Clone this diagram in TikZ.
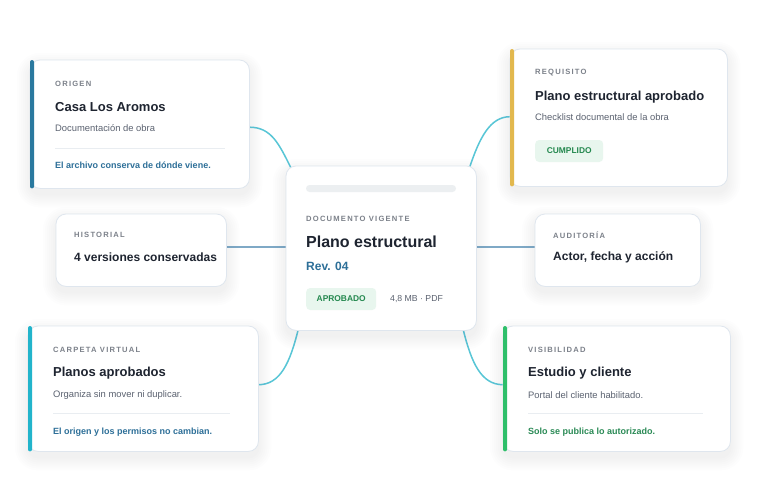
\documentclass[tikz,border=0pt]{standalone}
\usepackage{fontspec}
\setmainfont{Liberation Sans}
\newfontfamily\capsfont[LetterSpace=16]{Liberation Sans}
\usetikzlibrary{calc}

\definecolor{cardline}{HTML}{DFE6EE}
\definecolor{accorigen}{HTML}{2A799F}
\definecolor{acccarpeta}{HTML}{22B4CB}
\definecolor{accrequisito}{HTML}{E2B84E}
\definecolor{accvisible}{HTML}{2EBF6A}
\definecolor{linkcyan}{HTML}{58C6D6}
\definecolor{linksteel}{HTML}{7FA9C6}
\definecolor{lblgray}{HTML}{7C818A}
\definecolor{titledark}{HTML}{1E2430}
\definecolor{bodygray}{HTML}{5B6270}
\definecolor{noteblue}{HTML}{2D6F98}
\definecolor{notegreen}{HTML}{2A8A55}
\definecolor{badgefill}{HTML}{E8F6EE}
\definecolor{badgetext}{HTML}{23884E}
\definecolor{sepline}{HTML}{E9EDF1}
\definecolor{barfill}{HTML}{ECEFF1}
\definecolor{shadowtint}{HTML}{5A6E8C}

\tikzset{
  card/.style={draw=cardline, fill=white, line width=0.8pt, rounded corners=10pt},
  shade/.style={fill=shadowtint, fill opacity=0.011},
  txt/.style={anchor=west, inner sep=0pt},
  lbl/.style={txt, text=lblgray, font=\capsfont\bfseries\fontsize{7.6}{9}\selectfont},
  ttl/.style={txt, text=titledark, font=\bfseries\fontsize{13}{15}\selectfont},
  bodytxt/.style={txt, text=bodygray, font=\fontsize{9.4}{11}\selectfont},
  note/.style={txt, font=\bfseries\fontsize{9}{11}\selectfont},
  badge/.style={anchor=west, fill=badgefill, text=badgetext, rounded corners=4pt,
    minimum height=22pt, inner sep=0pt, font=\bfseries\fontsize{8.4}{10}\selectfont},
  sep/.style={draw=sepline, line width=0.8pt},
  link/.style={draw=linkcyan, line width=1.5pt},
  straight/.style={draw=linksteel, line width=1.5pt}
}

\begin{document}
\begin{tikzpicture}[x=1pt,y=-1pt]
  \fill[white] (0,0) rectangle (760,490);
  \useasboundingbox (0,0) rectangle (760,490);

  % card frames, placed by their top left corner
  \path[every node/.style={anchor=north west, inner sep=0pt}]
        (30,60) node[minimum width=219pt, minimum height=128pt] (origen) {}
        (56,214) node[minimum width=170pt, minimum height=72pt] (historial) {}
        (28,326) node[minimum width=230pt, minimum height=125pt] (carpeta) {}
        (286,166) node[minimum width=190pt, minimum height=164pt] (centro) {}
        (510,49) node[minimum width=217pt, minimum height=137pt] (requisito) {}
        (535,214) node[minimum width=165pt, minimum height=72pt] (auditoria) {}
        (503,326) node[minimum width=227pt, minimum height=125pt] (visible) {};

  % connectors
  \draw[link] ([yshift=-3pt]origen.east) .. controls +(22,0) and +(-12,-24) .. ([xshift=5pt,yshift=-2pt]centro.north west);
  \draw[link] ([xshift=-7pt,yshift=-2pt]centro.north east) .. controls +(10,-30) and +(-20,0) .. ([yshift=1pt]requisito.west);
  \draw[link] ([xshift=12pt]centro.south west) .. controls +(-8,32) and +(22,0) .. ([yshift=4pt]carpeta.east);
  \draw[link] ([xshift=-13pt]centro.south east) .. controls +(8,32) and +(-22,0) .. ([yshift=4pt]visible.west);
  \draw[straight] ([yshift=3pt]historial.east) -- ([yshift=3pt]historial.east -| centro.west);
  \draw[straight] ([yshift=3pt]auditoria.west -| centro.east) -- ([yshift=3pt]auditoria.west);

  % soft shadows and cards
  \foreach \c in {origen,historial,carpeta,centro,requisito,auditoria,visible}{
    \foreach \s in {1,3,...,13}
      \fill[shade, rounded corners=10pt+\s pt] ([xshift=-\s pt,yshift=\s pt-6pt]\c.north west) rectangle ([xshift=\s pt,yshift=-\s pt-6pt]\c.south east);
    \draw[card] (\c.north west) rectangle (\c.south east);
  }

  % accent bars
  \fill[accorigen, rounded corners=2pt] (origen.north west) rectangle ([xshift=4pt]origen.south west);
  \fill[acccarpeta, rounded corners=2pt] (carpeta.north west) rectangle ([xshift=4pt]carpeta.south west);
  \fill[accrequisito, rounded corners=2pt] (requisito.north west) rectangle ([xshift=4pt]requisito.south west);
  \fill[accvisible, rounded corners=2pt] (visible.north west) rectangle ([xshift=4pt]visible.south west);

  % origen
  \node[lbl] (origen-lbl) at (55,84) {ORIGEN};
  \node[ttl] (origen-ttl) at (55,107) {Casa Los Aromos};
  \node[bodytxt] (origen-txt) at (55,128) {Documentación de obra};
  \draw[sep] (55,148) -- (225,148);
  \node[note, text=noteblue] (origen-note) at (55,165) {El archivo conserva de dónde viene.};

  % historial
  \node[lbl] (historial-lbl) at (74,235) {HISTORIAL};
  \node[ttl, font=\bfseries\fontsize{12}{14}\selectfont] (historial-ttl) at (74,257) {4 versiones conservadas};

  % carpeta virtual
  \node[lbl] (carpeta-lbl) at (53,350) {CARPETA VIRTUAL};
  \node[ttl] (carpeta-ttl) at (53,373) {Planos aprobados};
  \node[bodytxt] (carpeta-txt) at (53,395) {Organiza sin mover ni duplicar.};
  \draw[sep] (53,413) -- (230,413);
  \node[note, text=noteblue] (carpeta-note) at (53,432) {El origen y los permisos no cambian.};

  % documento vigente
  \fill[barfill, rounded corners=3.5pt] (306,185) rectangle (456,192);
  \node[lbl] (centro-lbl) at (306,219) {DOCUMENTO VIGENTE};
  \node[ttl, font=\bfseries\fontsize{16}{18}\selectfont] (centro-ttl) at (306,242) {Plano estructural};
  \node[txt, text=noteblue, font=\bfseries\fontsize{12}{14}\selectfont] (centro-rev) at (306,266) {Rev. 04};
  \node[badge, minimum width=70pt] (aprobado) at (306,299) {APROBADO};
  \node[bodytxt, font=\fontsize{8.7}{10}\selectfont] (centro-meta) at (390,299) {4,8 MB · PDF};

  % requisito
  \node[lbl] (requisito-lbl) at (535,73) {REQUISITO};
  \node[ttl] (requisito-ttl) at (535,97) {Plano estructural aprobado};
  \node[bodytxt] (requisito-txt) at (535,117) {Checklist documental de la obra};
  \node[badge, minimum width=68pt] (cumplido) at (535,151) {CUMPLIDO};

  % auditoria
  \node[lbl] (auditoria-lbl) at (553,235) {AUDITORÍA};
  \node[ttl, font=\bfseries\fontsize{12}{14}\selectfont] (auditoria-ttl) at (553,257) {Actor, fecha y acción};

  % visibilidad
  \node[lbl] (visible-lbl) at (528,350) {VISIBILIDAD};
  \node[ttl] (visible-ttl) at (528,373) {Estudio y cliente};
  \node[bodytxt] (visible-txt) at (528,395) {Portal del cliente habilitado.};
  \draw[sep] (528,413) -- (703,413);
  \node[note, text=notegreen] (visible-note) at (528,432) {Solo se publica lo autorizado.};
\end{tikzpicture}
\end{document}
